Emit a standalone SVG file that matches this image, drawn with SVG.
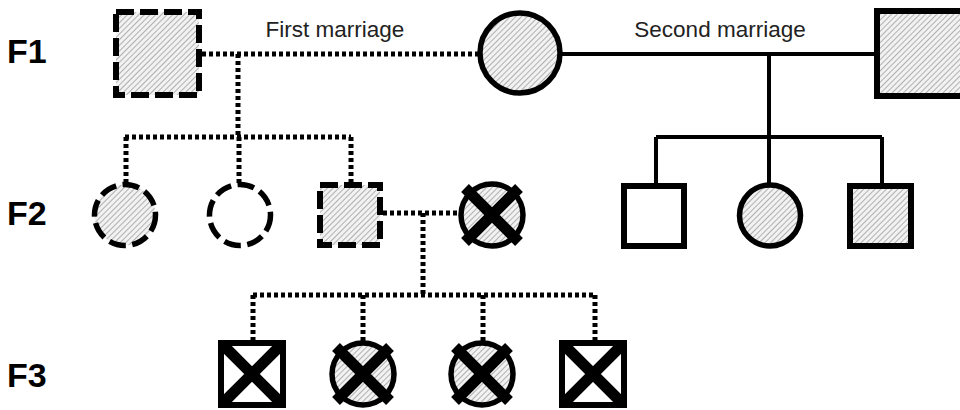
<svg xmlns="http://www.w3.org/2000/svg" width="960" height="410" viewBox="0 0 960 410">
<defs>
<pattern id="hatch" patternUnits="userSpaceOnUse" width="4" height="4" patternTransform="rotate(45)">
<rect width="4" height="4" fill="#f2f2f2"/>
<line x1="0" y1="0" x2="0" y2="4" stroke="#8c8c8c" stroke-width="1.3"/>
</pattern>
</defs>
<style>
.gen{font-family:"Liberation Sans",Arial,sans-serif;font-weight:bold;font-size:34px;fill:#000}
.lbl{font-family:"Liberation Sans",Arial,sans-serif;font-size:22.5px;fill:#222}
.dot{fill:none;stroke:#000;stroke-width:5;stroke-dasharray:4 3}
.sol{fill:none;stroke:#000;stroke-width:4}
.hat{fill:url(#hatch)}
.wht{fill:#fff}
.sq{stroke:#000;stroke-width:6}
.ci{stroke:#000;stroke-width:5.5}
.dsq{stroke-dasharray:18 6}
.dci{stroke-dasharray:17 6.5}
.x{stroke:#000;stroke-width:11;stroke-linecap:butt}
.xs{stroke:#000;stroke-width:11;stroke-linecap:butt}
</style>
<rect width="960" height="410" fill="#fff"/>

<g id="labels">
<text class="gen" x="7" y="63">F1</text>
<text class="gen" x="7" y="225">F2</text>
<text class="gen" x="7" y="387">F3</text>
<text class="lbl" x="335" y="37" text-anchor="middle">First marriage</text>
<text class="lbl" x="720" y="37" text-anchor="middle">Second marriage</text>
</g>

<g id="connectors">
<path class="dot" d="M202 54H478"/>
<path class="dot" d="M238 54V137"/>
<path class="dot" d="M125 137H351"/>
<path class="dot" d="M126 137V184M239 137V184M351 137V183"/>
<path class="dot" d="M383 213H460"/>
<path class="dot" d="M423 213V295"/>
<path class="dot" d="M253 295H595"/>
<path class="dot" d="M253 295V341M363 295V341M483 295V341M595 295V341"/>
<path class="sol" d="M562 54H876"/>
<path class="sol" d="M769 54V137"/>
<path class="sol" d="M656 137H882"/>
<path class="sol" d="M656 137V184M769 137V184M882 137V184"/>
</g>

<g id="f1-male-1"><rect class="hat sq dsq" x="116" y="12" width="83" height="83"/></g>
<g id="f1-female"><circle class="hat ci" cx="520" cy="53" r="40"/></g>
<g id="f1-male-2"><rect class="hat sq" x="877" y="11" width="88" height="85"/></g>

<g id="f2-female-1"><circle class="hat ci dci" cx="125" cy="215" r="30.5"/></g>
<g id="f2-female-2"><circle class="wht ci dci" cx="240" cy="215" r="30.5"/></g>
<g id="f2-male-1"><rect class="hat sq dsq" x="320" y="185" width="60" height="60"/></g>
<g id="f2-female-x">
<circle class="hat ci" cx="492" cy="215" r="31"/>
<path class="x" d="M465 188L519 242M519 188L465 242"/>
</g>
<g id="f2-male-2"><rect class="wht sq" x="624" y="186" width="60" height="60"/></g>
<g id="f2-female-3"><circle class="hat ci" cx="770" cy="215.5" r="30.5"/></g>
<g id="f2-male-3"><rect class="hat sq" x="850" y="186" width="61" height="60"/></g>

<g id="f3-male-1">
<rect class="wht sq" x="221" y="343" width="62" height="62"/>
<path class="xs" d="M224 346L280 402M280 346L224 402"/>
</g>
<g id="f3-female-1">
<circle class="hat ci" cx="363" cy="374" r="31"/>
<path class="x" d="M336 347L390 401M390 347L336 401"/>
</g>
<g id="f3-female-2">
<circle class="hat ci" cx="482" cy="374" r="31"/>
<path class="x" d="M455 347L509 401M509 347L455 401"/>
</g>
<g id="f3-male-2">
<rect class="wht sq" x="562" y="343" width="62" height="62"/>
<path class="xs" d="M565 346L621 402M621 346L565 402"/>
</g>
</svg>
